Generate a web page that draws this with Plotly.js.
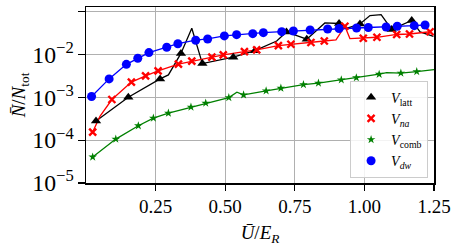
<!DOCTYPE html>
<html><head><meta charset="utf-8">
<script src="https://cdn.plot.ly/plotly-3.0.1.min.js"></script>
<style>html,body{margin:0;padding:0;background:#fff}#chart{width:457px;height:249px}</style>
</head><body><div id="chart"></div>
<script>
// V_latt
const lattX = [0.036,0.152,0.266,0.296,0.341,0.380,0.418,0.529,0.607,0.643,0.685,0.720,0.793,0.858,0.909,0.941,0.984,1.020,1.060,1.098,1.170,1.200,1.248];
const lattY = [2.79e-4,1.01e-3,2.70e-3,3.34e-3,0.0106,0.041,0.00614,0.00865,0.0123,0.0156,0.0207,0.0337,0.0228,0.0546,0.0531,0.0417,0.0516,0.0815,0.0851,0.0385,0.0624,0.0337,0.0264];
const lattMark = [1,1,1,0,1,0,1,1,1,0,0,1,1,0,1,0,1,0,0,1,1,0,0];
// V_na
const naX = [0.024,0.050,0.093,0.163,0.214,0.259,0.332,0.380,0.452,0.493,0.569,0.613,0.691,0.736,0.808,0.856,0.898,0.930,0.948,0.996,1.045,1.116,1.162,1.236];
const naY = [1.55e-4,3.6e-4,8.9e-4,2.28e-3,3.17e-3,4.15e-3,5.94e-3,6.98e-3,8.66e-3,9.8e-3,0.0117,0.0128,0.0161,0.0174,0.0191,0.0207,0.0219,0.0457,0.0236,0.0240,0.0253,0.0294,0.0302,0.034];
const naMark = [1,0,1,1,1,1,1,1,1,1,1,1,1,1,1,1,0,1,0,1,1,1,1,1];
// V_comb
const combX = [0.024,0.107,0.188,0.242,0.296,0.377,0.430,0.513,0.542,0.566,0.647,0.700,0.781,0.835,0.917,0.971,1.053,1.080,1.131,1.188,1.250];
const combY = [4.04e-5,1.06e-4,2.17e-4,3.28e-4,4.28e-4,5.94e-4,7.33e-4,9.9e-4,1.32e-3,1.14e-3,1.42e-3,1.64e-3,1.99e-3,2.15e-3,2.56e-3,2.88e-3,3.47e-3,3.79e-3,3.68e-3,3.99e-3,4.44e-3];
const combMark = [1,1,1,1,1,1,1,1,0,1,1,1,1,1,1,1,1,0,1,1,0];
// V_dw
const dwX = [0.020,0.083,0.145,0.186,0.226,0.290,0.330,0.394,0.437,0.497,0.541,0.599,0.637,0.703,0.745,0.805,0.868,0.909,0.972,1.014,1.078,1.118,1.179,1.218];
const dwY = [1.05e-3,2.7e-3,5.9e-3,8.2e-3,0.0111,0.0148,0.0179,0.0216,0.0231,0.0272,0.0291,0.0307,0.0324,0.0342,0.0355,0.0374,0.0395,0.0406,0.0417,0.0428,0.044,0.0457,0.0472,0.049];
const dwMark = dwX.map(() => 1);

const xTicks = [0.25,0.5,0.75,1.0,1.25];
const xTickText = ['0.25','0.50','0.75','1.00','1.25'];

const serif = '"Liberation Serif", "DejaVu Serif", serif';

function pick(arr, mask){ return arr.filter((v,i)=>mask[i]); }

const series = [
  {x: lattX, y: lattY, m: lattMark, color: '#000000', name: '<i>V</i><sub>latt</sub>', symbol: 'triangle-up', size: 9},
  {x: naX, y: naY, m: naMark, color: '#ff0000', name: '<i>V<sub>na</sub></i>', symbol: 'x-thin-open', size: 7},
  {x: combX, y: combY, m: combMark, color: '#008000', name: '<i>V</i><sub>comb</sub>', symbol: 'star', size: 6.5},
  {x: dwX, y: dwY, m: dwMark, color: '#0000ff', name: '<i>V<sub>dw</sub></i>', symbol: 'circle', size: 9}
];

const traces = [];
series.forEach(s => {
  traces.push({x: s.x, y: s.y, mode: 'lines', type: 'scatter', showlegend: false,
    line: {color: s.color, width: 1.3}, hoverinfo: 'skip'});
});
series.forEach(s => {
  const mk = {color: s.color, symbol: s.symbol, size: s.size};
  if (s.symbol === 'x-thin-open') mk.line = {color: s.color, width: 2.4};
  else mk.line = {width: 0};
  traces.push({x: pick(s.x, s.m), y: pick(s.y, s.m), mode: 'markers', type: 'scatter',
    name: s.name, marker: mk});
});

const layout = {
  width: 457, height: 249,
  margin: {l: 86, r: 23, t: 7, b: 65.5},
  paper_bgcolor: '#fff', plot_bgcolor: '#fff',
  font: {family: serif, color: '#000', size: 19},
  showlegend: true,
  legend: {x: 0.983, y: 0.031, xanchor: 'right', yanchor: 'bottom',
    bgcolor: 'rgba(255,255,255,0.85)', bordercolor: '#cccccc', borderwidth: 1,
    font: {family: serif, size: 14, color: '#000'}, itemwidth: 30},
  xaxis: {range: [0, 1.25], tickvals: xTicks, ticktext: xTickText,
    ticks: 'outside', ticklen: 6, tickwidth: 1.2, tickcolor: '#000',
    showgrid: true, gridcolor: '#b0b0b0', gridwidth: 1,
    showline: true, linecolor: '#000', linewidth: 1.5, mirror: true, zeroline: false,
    tickfont: {family: serif, size: 19},
    title: {text: '<i>Ū</i>/<i>E<sub>R</sub></i>', font: {family: serif, size: 19}, standoff: 9}},
  yaxis: {type: 'log', range: [-5, -0.89], dtick: 1, exponentformat: 'power',
    ticks: 'outside', ticklen: 7, tickwidth: 1.2, tickcolor: '#000',
    showgrid: true, gridcolor: '#b0b0b0', gridwidth: 1,
    showline: true, linecolor: '#000', linewidth: 1.5, mirror: true, zeroline: false,
    tickfont: {family: serif, size: 19},
    title: {text: '<i>N̄</i>/<i>N</i><sub>tot</sub>', font: {family: serif, size: 19}, standoff: 0}}
};

Plotly.newPlot('chart', traces, layout, {staticPlot: true, displayModeBar: false});
</script>
</body></html>
